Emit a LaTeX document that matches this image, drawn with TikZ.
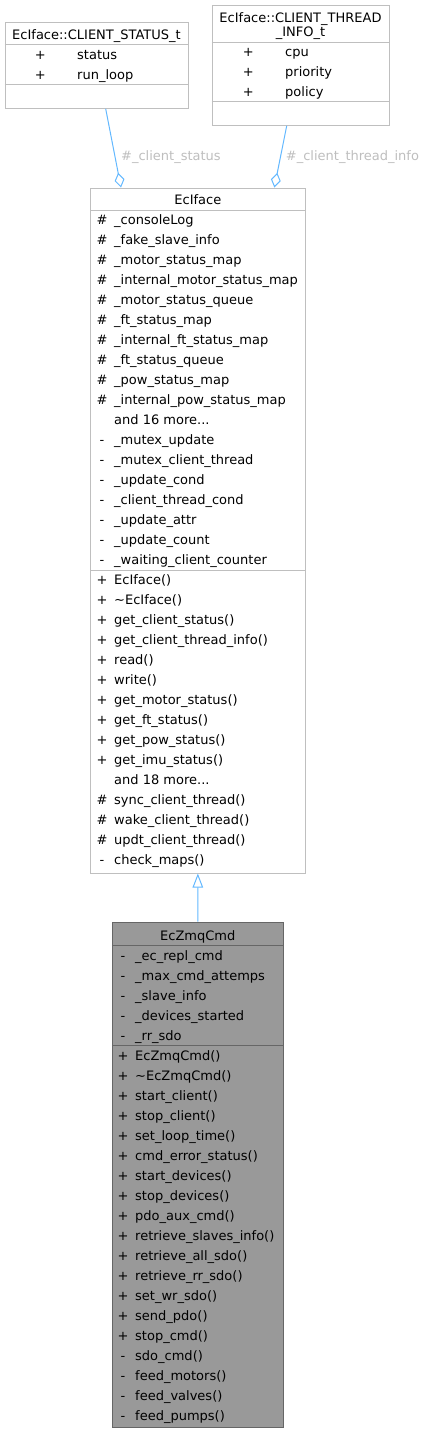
\documentclass[tikz,border=0pt]{standalone}
\usepackage{fontspec}
\setmainfont{DejaVu Sans}
\usetikzlibrary{arrows.meta, positioning}
\definecolor{boxframe}{HTML}{BFBFBF}
\definecolor{edgeblue}{HTML}{63B8FF}
\definecolor{labelgrey}{HTML}{BEBEBE}
\definecolor{mainfill}{HTML}{999999}
\definecolor{mainframe}{HTML}{666666}
\newcommand{\moredots}{...}

\begin{document}
\begin{tikzpicture}[x=1pt, y=-1pt,
        classbox/.style={draw=boxframe, fill=white, line width=1pt, inner sep=0pt},
        mainbox/.style={classbox, draw=mainframe, fill=mainfill},
        member/.style={anchor=base west, inner sep=0pt, font=\fontsize{13}{15}\selectfont},
        symbol/.style={member, anchor=base},
        title/.style={member, anchor=base},
        sepline/.style={draw=boxframe, line width=1pt},
        mainsep/.style={draw=mainframe, line width=1pt},
        aggr/.style={draw=edgeblue, line width=1pt, -{Diamond[open, length=15pt, width=10pt]}},
        inherit/.style={draw=edgeblue, line width=1pt, -{Triangle[open, length=14pt, width=10.5pt]}},
        edgelabel/.style={member, text=labelgrey}
    ]
    \useasboundingbox (0,0) rectangle (426,1433);

    \node[classbox, minimum width=183pt, minimum height=85.6pt] (status) at (96.5,65.5) {};
    \node[title] (statustitle) at (96.5,39.6) {EcIface::CLIENT\_STATUS\_t};
    \draw[sepline] ([yshift=-22.3pt]status.north west) -- ([yshift=-22.3pt]status.north east);
    \draw[sepline] ([yshift=-62.3pt]status.north west) -- ([yshift=-62.3pt]status.north east);
    \foreach \m [count=\i from 0] in {status, run\_loop} {
        \node[symbol] (stsym\i) at (40.3,59+20*\i) {+};
        \node[member] (st\i) at (77,59+20*\i) {\m};
    }

    \node[classbox, minimum width=177pt, minimum height=120.3pt] (thread) at (300.5,65.15) {};
    \node[title] (threadtitle) at (300.5,22) {EcIface::CLIENT\_THREAD};
    \node[title] (threadtitleb) at (300.5,36) {\_INFO\_t};
    \draw[sepline] ([yshift=-37.7pt]thread.north west) -- ([yshift=-37.7pt]thread.north east);
    \draw[sepline] ([yshift=-97.3pt]thread.north west) -- ([yshift=-97.3pt]thread.north east);
    \foreach \m [count=\i from 0] in {cpu, priority, policy} {
        \node[symbol] (thsym\i) at (248.3,56.3+20*\i) {+};
        \node[member] (th\i) at (285,56.3+20*\i) {\m};
    }

    \node[classbox, minimum width=214.3pt, minimum height=685pt] (iface) at (197.85,530.5) {};
    \node[title] (ifacetitle) at (197.85,204) {EcIface};
    \draw[sepline] ([yshift=-22.7pt]iface.north west) -- ([yshift=-22.7pt]iface.north east);
    \draw[sepline] ([yshift=-383pt]iface.north west) -- ([yshift=-383pt]iface.north east);
    \foreach \s/\m [count=\i from 0] in {\#/\_consoleLog, \#/\_fake\_slave\_info, \#/\_motor\_status\_map,
        \#/\_internal\_motor\_status\_map, \#/\_motor\_status\_queue, \#/\_ft\_status\_map,
        \#/\_internal\_ft\_status\_map, \#/\_ft\_status\_queue, \#/\_pow\_status\_map,
        \#/\_internal\_pow\_status\_map, {}/and 16 more\moredots, -/\_mutex\_update,
        -/\_mutex\_client\_thread, -/\_update\_cond, -/\_client\_thread\_cond, -/\_update\_attr,
        -/\_update\_count, -/\_waiting\_client\_counter} {
        \node[symbol] (ifasym\i) at (102,224.3+20*\i) {\s};
        \node[member] (ifa\i) at (114,224.3+20*\i) {\m};
    }
    \foreach \s/\m [count=\i from 0] in {+/EcIface(), +/\textasciitilde EcIface(), +/get\_client\_status(),
        +/get\_client\_thread\_info(), +/read(), +/write(), +/get\_motor\_status(), +/get\_ft\_status(),
        +/get\_pow\_status(), +/get\_imu\_status(), {}/and 18 more\moredots, \#/sync\_client\_thread(),
        \#/wake\_client\_thread(), \#/updt\_client\_thread(), -/check\_maps()} {
        \node[symbol] (ifmsym\i) at (102,584.3+20*\i) {\s};
        \node[member] (ifm\i) at (114,584.3+20*\i) {\m};
    }

    \node[mainbox, minimum width=171pt, minimum height=505.7pt] (zmq) at (197.8,1174.85) {};
    \node[title] (zmqtitle) at (197.8,940) {EcZmqCmd};
    \draw[mainsep] ([yshift=-24pt]zmq.north west) -- ([yshift=-24pt]zmq.north east);
    \draw[mainsep] ([yshift=-123.7pt]zmq.north west) -- ([yshift=-123.7pt]zmq.north east);
    \foreach \m [count=\i from 0] in {\_ec\_repl\_cmd, \_max\_cmd\_attemps, \_slave\_info,
        \_devices\_started, \_rr\_sdo} {
        \node[symbol] (zasym\i) at (123,960+20*\i) {-};
        \node[member] (za\i) at (135,960+20*\i) {\m};
    }
    \foreach \s/\m [count=\i from 0] in {+/EcZmqCmd(), +/\textasciitilde EcZmqCmd(), +/start\_client(),
        +/stop\_client(), +/set\_loop\_time(), +/cmd\_error\_status(), +/start\_devices(),
        +/stop\_devices(), +/pdo\_aux\_cmd(), +/retrieve\_slaves\_info(), +/retrieve\_all\_sdo(),
        +/retrieve\_rr\_sdo(), +/set\_wr\_sdo(), +/send\_pdo(), +/stop\_cmd(), -/sdo\_cmd(),
        -/feed\_motors(), -/feed\_valves(), -/feed\_pumps()} {
        \node[symbol] (zmsym\i) at (123,1060+20*\i) {\s};
        \node[member] (zm\i) at (135,1060+20*\i) {\m};
    }

    \draw[aggr] ([xshift=9.2pt]status.south) -- ([xshift=-76.85pt]iface.north);
    \node[edgelabel] (statuslabel) at (121,160) {\#\_client\_status};
    \draw[aggr] ([xshift=-13.8pt]thread.south) -- ([xshift=76.5pt]iface.north);
    \node[edgelabel] (threadlabel) at (285.7,160) {\#\_client\_thread\_info};
    \draw[inherit] (zmq.north) -- (iface.south);
\end{tikzpicture}
\end{document}
